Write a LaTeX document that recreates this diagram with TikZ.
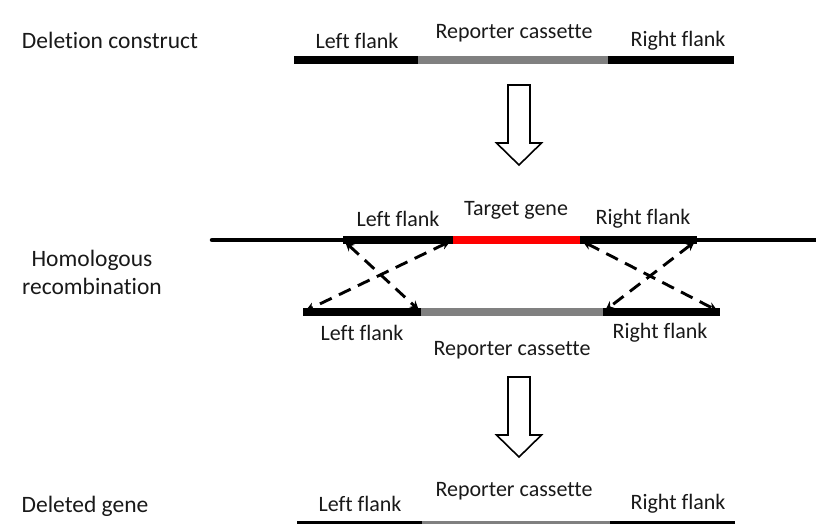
\documentclass[tikz,border=0pt]{standalone}
\usepackage{fontspec}
\setmainfont{Carlito}[Ligatures=NoCommon]
\usetikzlibrary{arrows.meta}

\tikzset{
  downarrow/.pic={
    \draw[line width=1.6pt,line join=miter,fill=white]
      (-11,0) -- (-11,58) -- (-22.5,58) -- (0,80) -- (22.5,58) -- (11,58) -- (11,0) -- cycle;
  }
}

\begin{document}
\begin{tikzpicture}[x=1pt,y=-1pt,>=Stealth,
		lbl/.style={font=\fontsize{22}{26}\selectfont,text=black!90,inner sep=0pt},
		title/.style={font=\fontsize{23.5}{28}\selectfont,text=black!90,inner sep=0pt,align=center},
		flank/.style={line width=7.5pt,black},
		cassette/.style={line width=7.5pt,black!50},
		gene/.style={line width=7.5pt,red},
		chrom/.style={line width=4.5pt},
		cross/.style={{Stealth[length=9pt,width=9pt]}-{Stealth[length=9pt,width=9pt]},line width=2.9pt,
			dash pattern=on 13pt off 8pt,shorten <=3pt,shorten >=3pt}]
		\useasboundingbox (0,0) rectangle (816,524);
		
		% deletion construct
		\coordinate (dL) at (294,60);
		\coordinate (dA) at (418,60);
		\coordinate (dB) at (608,60);
		\coordinate (dR) at (734,60);
		\draw[flank]    (dL) -- (dA);
		\draw[cassette] (dA) -- (dB);
		\draw[flank]    (dB) -- (dR);
		\node[title] (tDel) at (110,40) {Deletion construct};
		\node[lbl] (tdL)   at (357,41) {Left flank};
		\node[lbl] (tdC)   at (514,33) {Reporter cassette};
		\node[lbl] (tdR)   at (678,41) {Right flank};
		
		\pic at (519,85) {downarrow};
		
		% chromosome with the target gene
		\coordinate (chS) at (212,240);
		\coordinate (chE) at (816,240);
		\coordinate (cL) at (343,240);
		\coordinate (cA) at (453,240);
		\coordinate (cB) at (580,240);
		\coordinate (cR) at (697,240);
		\draw[chrom,line cap=round] (chS) -- (cL);
		\draw[chrom] (cR) -- (chE);
		\draw[flank] (cL) -- (cA);
		\draw[gene]  (cA) -- (cB);
		\draw[flank] (cB) -- (cR);
		\node[lbl] (tcL) at (398,219) {Left flank};
		\node[lbl] (tcG) at (516,210) {Target gene};
		\node[lbl] (tcR) at (643,219) {Right flank};
		\node[title] (tHom) at (92,272) {Homologous\\recombination};
		
		% construct lined up below
		\coordinate (rL) at (303,312);
		\coordinate (rA) at (421,312);
		\coordinate (rB) at (603,312);
		\coordinate (rR) at (720,312);
		\draw[flank]    (rL) -- (rA);
		\draw[cassette] (rA) -- (rB);
		\draw[flank]    (rB) -- (rR);
		\node[lbl] (trL) at (362,333) {Left flank};
		\node[lbl] (trC) at (512,350) {Reporter cassette};
		\node[lbl] (trR) at (660,333) {Right flank};
		
		% crossovers
		\draw[cross] (cL) -- (rA);
		\draw[cross] (cA) -- (rL);
		\draw[cross] (cB) -- (rR);
		\draw[cross] (cR) -- (rB);
		
		\pic at (519,377) {downarrow};
		
		% result
		\coordinate (bL) at (297,525);
		\coordinate (bA) at (422,525);
		\coordinate (bB) at (610,525);
		\coordinate (bR) at (735,525);
		\draw[flank]    (bL) -- (bA);
		\draw[cassette] (bA) -- (bB);
		\draw[flank]    (bB) -- (bR);
		\node[title] (tDgn) at (85,506) {Deleted gene};
		\node[lbl] (tbL)  at (360,504) {Left flank};
		\node[lbl] (tbC)  at (514,491) {Reporter cassette};
		\node[lbl] (tbR)  at (678,504) {Right flank};
\end{tikzpicture}
\end{document}
